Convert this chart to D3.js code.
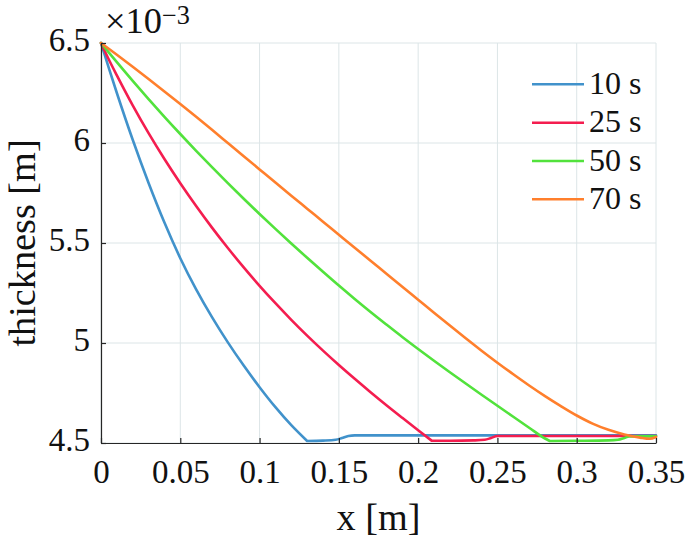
<!DOCTYPE html>
<html>
<head>
<meta charset="utf-8">
<script src="https://cdn.jsdelivr.net/npm/d3@7"></script>
<style>
  html, body { margin: 0; padding: 0; background: #fff; }
  svg { display: block; }
</style>
</head>
<body>
<svg id="chart" width="685" height="539" font-family="'Liberation Serif', 'DejaVu Serif', 'Noto Serif', Times, serif"></svg>
<script>
// ---- Data (thickness in units of 1e-3 m) ----
const seriesNames = ["10 s", "25 s", "50 s", "70 s"];
const seriesColors = ["#4192cb", "#f41d4f", "#52e23c", "#ff7f2c"];

const x10 = [0, 0.005, 0.01, 0.02, 0.03, 0.04, 0.05, 0.06, 0.07, 0.08, 0.09, 0.10, 0.11, 0.12, 0.13, 0.14, 0.148, 0.152, 0.156, 0.16, 0.20, 0.25, 0.30, 0.35];
const t10 = [6.5, 6.373, 6.25, 6.016, 5.80, 5.602, 5.424, 5.268, 5.129, 5.003, 4.887, 4.779, 4.679, 4.589, 4.51, 4.512, 4.516, 4.525, 4.535, 4.538, 4.538, 4.538, 4.538, 4.538];

const x25 = [0, 0.005, 0.01, 0.02, 0.03, 0.04, 0.05, 0.06, 0.07, 0.08, 0.09, 0.10, 0.11, 0.12, 0.13, 0.14, 0.15, 0.16, 0.17, 0.18, 0.19, 0.20, 0.2085, 0.22, 0.235, 0.242, 0.246, 0.25, 0.30, 0.35];
const t25 = [6.5, 6.416, 6.338, 6.188, 6.049, 5.92, 5.799, 5.685, 5.577, 5.475, 5.378, 5.286, 5.199, 5.116, 5.037, 4.962, 4.89, 4.821, 4.754, 4.689, 4.626, 4.564, 4.512, 4.511, 4.513, 4.516, 4.525, 4.535, 4.535, 4.535];

const x50 = [0, 0.005, 0.01, 0.02, 0.03, 0.04, 0.05, 0.06, 0.07, 0.08, 0.09, 0.10, 0.11, 0.12, 0.13, 0.14, 0.15, 0.16, 0.17, 0.18, 0.19, 0.20, 0.21, 0.22, 0.23, 0.24, 0.25, 0.26, 0.27, 0.28, 0.283, 0.30, 0.32, 0.326, 0.33, 0.333, 0.35];
const t50 = [6.5, 6.452, 6.404, 6.3105, 6.2195, 6.131, 6.045, 5.961, 5.879, 5.799, 5.721, 5.645, 5.5705, 5.4975, 5.426, 5.356, 5.287, 5.22, 5.155, 5.092, 5.03, 4.97, 4.9115, 4.854, 4.7975, 4.7415, 4.686, 4.631, 4.5765, 4.5225, 4.51, 4.511, 4.513, 4.516, 4.525, 4.533, 4.533];

const x70 = [0, 0.01, 0.02, 0.03, 0.04, 0.05, 0.06, 0.07, 0.08, 0.09, 0.10, 0.11, 0.12, 0.13, 0.14, 0.15, 0.16, 0.17, 0.18, 0.19, 0.20, 0.21, 0.22, 0.23, 0.24, 0.25, 0.26, 0.27, 0.28, 0.29, 0.30, 0.31, 0.32, 0.33, 0.34, 0.346, 0.35];
const t70 = [6.5, 6.441, 6.381, 6.32, 6.258, 6.195, 6.131, 6.066, 6.0, 5.934, 5.868, 5.802, 5.7365, 5.6715, 5.6065, 5.5415, 5.4765, 5.4115, 5.3465, 5.2815, 5.2165, 5.1515, 5.087, 5.0235, 4.9615, 4.9015, 4.8435, 4.7875, 4.7345, 4.6845, 4.6375, 4.597, 4.566, 4.543, 4.527, 4.521, 4.53];

// x position where each curve reaches the bottom plateau (sharp corner)
const cornerX = [0.13, 0.2085, 0.283, null];

const xTicks = [0, 0.05, 0.1, 0.15, 0.2, 0.25, 0.3, 0.35];
const xTickLabels = ["0", "0.05", "0.1", "0.15", "0.2", "0.25", "0.3", "0.35"];
const yTicks = [4.5, 5, 5.5, 6, 6.5];
const yTickLabels = ["4.5", "5", "5.5", "6", "6.5"];

const xs = [x10, x25, x50, x70];
const ts = [t10, t25, t50, t70];

// ---- Layout ----
const FONT = "'Liberation Serif', 'DejaVu Serif', 'Noto Serif', Times, serif";
const svg = d3.select("#chart");
const L = 101, R = 656, T = 43, B = 443;
const x = d3.scaleLinear().domain([0, 0.35]).range([L, R]);
const y = d3.scaleLinear().domain([4.5, 6.5]).range([B, T]);

function fitFont(str, targetW) {
  const t = svg.append("text").style("font-family", FONT).style("font-size", "100px").text(str);
  const w = t.node().getComputedTextLength();
  t.remove();
  return 100 * targetW / w;
}
const tickFS = (fitFont("0.35", 57) + fitFont("6.5", 43) + fitFont("0.05", 56)) / 3;
const labelFS = fitFont("x [m]", 84);
const legendFS = fitFont("10 s", 52.5);
const expFS = fitFont("×10", 57);
const supFS = fitFont("−3", 28);

// grid
const grid = svg.append("g");
grid.selectAll("line.vx").data(xTicks).join("line")
  .attr("x1", d => x(d)).attr("x2", d => x(d))
  .attr("y1", T).attr("y2", B)
  .attr("stroke", "#dce5e7").attr("stroke-width", 1);
grid.selectAll("line.hy").data(yTicks).join("line")
  .attr("x1", L).attr("x2", R)
  .attr("y1", d => y(d)).attr("y2", d => y(d))
  .attr("stroke", "#dce5e7").attr("stroke-width", 1);

// series
const smooth = d3.line().x(d => x(d[0])).y(d => y(d[1])).curve(d3.curveMonotoneX);
seriesNames.forEach((name, i) => {
  const pts = xs[i].map((v, j) => [v, ts[i][j]]);
  let d;
  const k = cornerX[i] == null ? -1 : xs[i].indexOf(cornerX[i]);
  if (k > 0) {
    d = smooth(pts.slice(0, k + 1)) + smooth(pts.slice(k)).replace(/^M/, "L");
  } else {
    d = smooth(pts);
  }
  svg.append("path")
    .attr("d", d)
    .attr("fill", "none")
    .attr("stroke", seriesColors[i])
    .attr("stroke-width", 2.6)
    .attr("stroke-linejoin", "round")
    .attr("stroke-linecap", "round");
});

// axes
const xAxis = d3.axisBottom(x).tickValues(xTicks)
  .tickFormat((d, i) => xTickLabels[i]).tickSizeInner(-5).tickSizeOuter(0);
const gx = svg.append("g").attr("transform", `translate(0,${B})`).call(xAxis);
gx.attr("font-family", FONT);
gx.select(".domain").attr("stroke", "#262626").attr("stroke-width", 1.2);
gx.selectAll(".tick line").attr("stroke", "#262626").attr("stroke-width", 1.2);
gx.selectAll(".tick text").attr("y", 40).attr("dy", null)
  .style("font-size", tickFS + "px");

const yAxis = d3.axisLeft(y).tickValues(yTicks)
  .tickFormat((d, i) => yTickLabels[i]).tickSizeInner(-5).tickSizeOuter(0);
const gy = svg.append("g").attr("transform", `translate(${L},0)`).call(yAxis);
gy.attr("font-family", FONT);
gy.select(".domain").attr("stroke", "#262626").attr("stroke-width", 1.2);
gy.selectAll(".tick line").attr("stroke", "#262626").attr("stroke-width", 1.2);
gy.selectAll(".tick text").attr("x", -11).attr("dy", null).attr("y", 7.5)
  .style("font-size", tickFS + "px");

// exponent
const ex = svg.append("text").attr("x", 105).attr("y", 33).style("font-size", expFS + "px");
ex.append("tspan").text("×10");
ex.append("tspan").attr("dy", -9).style("font-size", supFS + "px").text("−3");

// axis labels
svg.append("text").attr("x", (L + R) / 2).attr("y", 530)
  .attr("text-anchor", "middle").style("font-size", labelFS + "px").text("x [m]");
svg.append("text").attr("transform", `translate(35,${(T + B) / 2}) rotate(-90)`)
  .attr("text-anchor", "middle").style("font-size", labelFS + "px").text("thickness [m]");

// legend
const legY = [84.3, 122.7, 161, 199.3];
seriesNames.forEach((name, i) => {
  svg.append("line").attr("x1", 532).attr("x2", 584)
    .attr("y1", legY[i]).attr("y2", legY[i])
    .attr("stroke", seriesColors[i]).attr("stroke-width", 2.6);
  svg.append("text").attr("x", 589).attr("y", legY[i] + 9.5)
    .style("font-size", legendFS + "px").text(name);
});

svg.selectAll("text").style("font-family", FONT).attr("fill", "#111");
</script>
</body>
</html>
